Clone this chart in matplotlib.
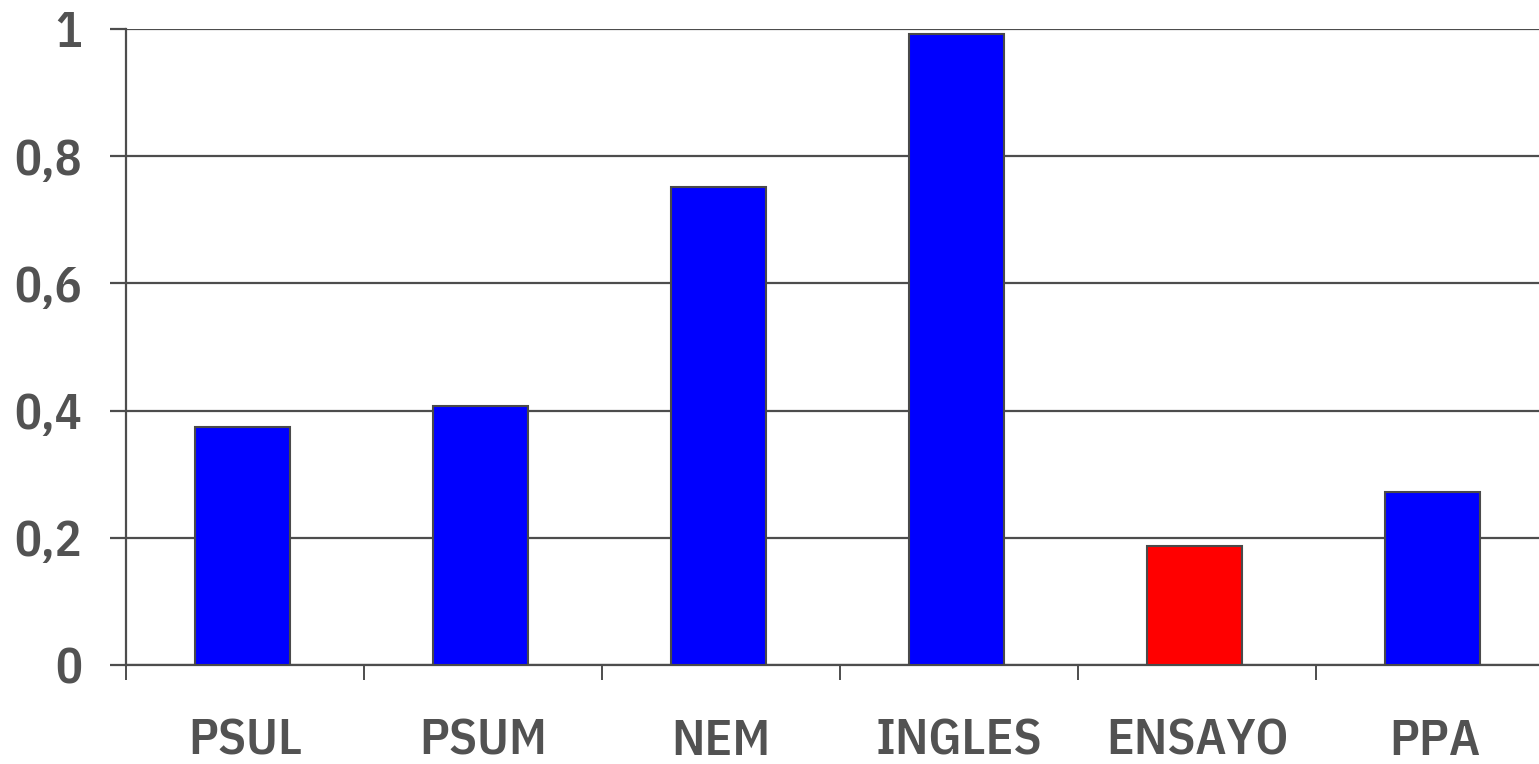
import numpy as np
import matplotlib
matplotlib.use('Agg')
import matplotlib.pyplot as plt
from matplotlib.ticker import FixedLocator

categories = ['PSUL', 'PSUM', 'NEM', 'INGLES', 'ENSAYO', 'PPA']
values = [0.374, 0.407, 0.752, 0.992, 0.187, 0.272]
barColors = ['#0000ff', '#0000ff', '#0000ff', '#0000ff', '#ff0000', '#0000ff']
yTicks = [0, 0.2, 0.4, 0.6, 0.8, 1.0]
yTickLabels = ['0', '0,2', '0,4', '0,6', '0,8', '1']

textColor = '#525252'
lineColor = '#4d4d4d'

plt.rcParams['font.family'] = ['IBM Plex Sans Condensed', 'Liberation Sans Narrow', 'DejaVu Sans']

fig = plt.figure(figsize=(15.39, 7.64), dpi=100)
ax = fig.add_axes([126 / 1539, 99 / 764, 1428 / 1539, 636 / 764])

x = np.arange(len(categories))
ax.bar(x - 0.01, values, width=0.4, color=barColors, edgecolor='#4a4a4a', linewidth=1.5, zorder=3)

ax.set_xlim(-0.5, len(categories) - 0.5)
ax.set_ylim(0, 1)

# lineas horizontales
ax.set_yticks(yTicks)
ax.set_yticklabels(yTickLabels)
ax.grid(axis='y', color=lineColor, linewidth=1.6, zorder=1)
ax.grid(axis='x', visible=False)

ax.set_xticks(x)
ax.set_xticklabels(categories)
ax.xaxis.set_minor_locator(FixedLocator(np.arange(-0.5, len(categories), 1.0)))

ax.tick_params(axis='x', which='major', length=0, pad=38, labelsize=37, labelcolor=textColor)
ax.tick_params(axis='x', which='minor', length=11, width=1.4, color=lineColor, direction='out')
ax.tick_params(axis='y', length=11.5, width=1.6, color=lineColor, pad=20, labelsize=36, labelcolor=textColor)

for lbl in ax.get_xticklabels() + ax.get_yticklabels():
    lbl.set_fontweight('semibold')

ax.spines['top'].set_visible(False)
ax.spines['right'].set_visible(False)
ax.spines['left'].set_color(lineColor)
ax.spines['left'].set_linewidth(1.6)
ax.spines['left'].set_bounds(0, 1)
ax.spines['bottom'].set_color(lineColor)
ax.spines['bottom'].set_linewidth(1.6)

fig.savefig('out.png', dpi=100)
